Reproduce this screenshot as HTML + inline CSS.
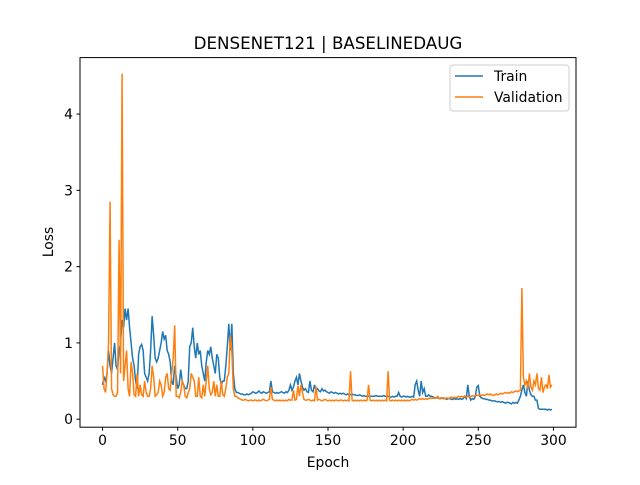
<!DOCTYPE html>
<html><head><meta charset="utf-8"><style>
body{margin:0;background:#fff}
svg{font-family:"DejaVu Sans","Liberation Sans",sans-serif}
</style></head><body>
<svg id="chart" width="640" height="480" viewBox="0 0 640 480" xmlns="http://www.w3.org/2000/svg">
<rect width="640" height="480" fill="#fff"/>
<text x="328" y="49" text-anchor="middle" font-size="16.7">DENSENET121 | BASELINEDAUG</text>
<g id="plot"></g>
<rect x="80" y="57.6" width="496" height="369.6" fill="none" stroke="#000" stroke-width="1"/>
<g id="ticks"></g>
<text x="328" y="467" text-anchor="middle" font-size="13.9">Epoch</text>
<text transform="translate(53,242) rotate(-90)" text-anchor="middle" font-size="13.9">Loss</text>
<g>
<rect x="450" y="65" width="119" height="46" fill="#fff" stroke="#ccc" rx="3"/>
<line x1="455" y1="76" x2="483" y2="76" stroke="#1f77b4" stroke-width="1.5"/>
<text x="494" y="81" font-size="13.9">Train</text>
<line x1="455" y1="97" x2="483" y2="97" stroke="#ff7f0e" stroke-width="1.5"/>
<text x="494" y="102" font-size="13.9">Validation</text>
</g>
</svg>
<script>
const xTicks=[0,50,100,150,200,250,300];
const yTicks=[0,1,2,3,4];
const trainLoss=[0.45,0.55,0.5,0.6,0.9,0.7,0.6,0.8,1.0,0.7,
0.65,0.9,1.0,1.3,1.2,1.45,1.3,1.45,1.2,1.0,
0.8,0.7,0.5,0.4,0.85,0.95,0.98,0.9,0.6,0.55,
0.5,0.6,0.9,1.35,1.1,0.8,0.75,0.8,0.9,1.0,
1.15,1.05,1.1,0.9,0.85,0.75,0.5,0.45,0.7,0.55,
0.4,0.45,0.65,0.5,0.45,0.4,0.4,0.5,0.95,1.0,
1.2,0.95,0.8,1.0,0.85,0.9,0.7,0.6,0.5,0.75,
0.9,0.85,0.95,0.8,0.7,0.6,0.85,0.8,0.55,0.45,
0.5,0.5,0.7,0.95,1.25,0.9,1.25,0.6,0.4,0.35,
0.35,0.34,0.33,0.33,0.32,0.32,0.33,0.32,0.33,0.34,
0.36,0.35,0.34,0.35,0.37,0.35,0.34,0.36,0.35,0.34,
0.35,0.36,0.5,0.36,0.35,0.34,0.35,0.34,0.35,0.36,
0.35,0.34,0.36,0.35,0.38,0.45,0.38,0.42,0.5,0.55,
0.45,0.6,0.5,0.42,0.38,0.4,0.36,0.35,0.5,0.38,
0.36,0.45,0.38,0.4,0.37,0.36,0.4,0.37,0.38,0.36,
0.35,0.34,0.36,0.35,0.34,0.35,0.34,0.33,0.34,0.33,
0.34,0.33,0.32,0.33,0.32,0.32,0.33,0.32,0.32,0.31,
0.31,0.32,0.31,0.3,0.31,0.3,0.3,0.3,0.3,0.3,
0.3,0.3,0.31,0.3,0.3,0.3,0.3,0.31,0.3,0.3,
0.3,0.29,0.29,0.3,0.29,0.3,0.3,0.35,0.3,0.29,
0.3,0.3,0.29,0.3,0.29,0.29,0.3,0.29,0.45,0.5,
0.38,0.3,0.5,0.35,0.4,0.3,0.3,0.32,0.3,0.3,
0.29,0.28,0.28,0.28,0.27,0.27,0.28,0.27,0.27,0.26,
0.27,0.27,0.26,0.26,0.27,0.26,0.27,0.26,0.27,0.26,
0.27,0.3,0.27,0.45,0.3,0.25,0.27,0.26,0.3,0.42,
0.44,0.3,0.28,0.27,0.27,0.26,0.26,0.25,0.25,0.24,
0.24,0.24,0.23,0.23,0.23,0.22,0.23,0.22,0.21,0.22,
0.22,0.21,0.2,0.22,0.21,0.22,0.21,0.25,0.3,0.38,
0.45,0.35,0.3,0.5,0.38,0.32,0.3,0.3,0.25,0.25,
0.14,0.13,0.13,0.13,0.13,0.13,0.12,0.13,0.12,0.13];
const valLoss=[0.7,0.4,0.35,0.6,1.0,2.85,0.4,0.32,0.3,0.3,
0.35,2.35,0.6,4.53,0.5,0.7,0.9,0.4,0.3,0.75,
0.6,0.32,0.3,0.6,0.3,0.45,0.32,0.3,0.5,0.35,
0.3,0.3,0.4,0.7,0.55,0.3,0.32,0.35,0.5,0.45,
0.3,0.35,0.55,0.6,0.4,0.38,0.6,0.8,1.23,0.3,
0.3,0.28,0.35,0.5,0.45,0.3,0.28,0.35,0.4,0.6,
0.55,0.5,0.3,0.3,0.55,0.3,0.28,0.45,0.3,0.5,
0.7,0.4,0.32,0.35,0.5,0.3,0.45,0.3,0.3,0.5,
0.32,0.3,0.4,0.55,0.6,1.1,0.9,0.4,0.3,0.3,
0.28,0.27,0.26,0.25,0.25,0.26,0.25,0.24,0.25,0.25,
0.24,0.25,0.25,0.24,0.25,0.24,0.25,0.26,0.25,0.24,
0.25,0.26,0.42,0.26,0.25,0.24,0.25,0.24,0.25,0.24,
0.25,0.24,0.25,0.24,0.26,0.25,0.25,0.38,0.25,0.26,
0.44,0.3,0.45,0.35,0.26,0.25,0.25,0.26,0.25,0.24,
0.25,0.24,0.43,0.25,0.26,0.25,0.24,0.25,0.26,0.25,
0.24,0.25,0.24,0.25,0.24,0.25,0.25,0.24,0.25,0.25,
0.24,0.25,0.24,0.25,0.24,0.63,0.25,0.24,0.25,0.24,
0.25,0.24,0.25,0.24,0.25,0.24,0.25,0.45,0.25,0.24,
0.25,0.24,0.25,0.24,0.25,0.24,0.25,0.24,0.25,0.24,
0.63,0.25,0.24,0.25,0.24,0.25,0.24,0.25,0.24,0.25,
0.24,0.25,0.24,0.25,0.24,0.25,0.26,0.25,0.26,0.25,
0.26,0.27,0.26,0.27,0.26,0.27,0.26,0.27,0.28,0.27,
0.28,0.27,0.28,0.3,0.27,0.28,0.27,0.28,0.27,0.28,
0.27,0.28,0.29,0.28,0.29,0.28,0.29,0.3,0.29,0.3,
0.29,0.3,0.29,0.3,0.29,0.3,0.31,0.3,0.31,0.32,
0.31,0.32,0.31,0.32,0.31,0.32,0.33,0.32,0.33,0.32,
0.31,0.32,0.33,0.32,0.33,0.34,0.33,0.34,0.35,0.34,
0.35,0.34,0.36,0.35,0.36,0.37,0.36,0.37,0.38,1.72,
0.55,0.45,0.5,0.4,0.6,0.42,0.38,0.5,0.45,0.6,
0.4,0.38,0.55,0.35,0.42,0.45,0.4,0.58,0.42,0.45];
const X0=-15,X1=315,Y0=-0.105,Y1=4.74;
const L=80,R=576,T=57.6,B=427.2;
const xs=v=>L+(v-X0)/(X1-X0)*(R-L);
const ys=v=>B-(v-Y0)/(Y1-Y0)*(B-T);
const NS="http://www.w3.org/2000/svg";
const plot=document.getElementById('plot'),ticks=document.getElementById('ticks');
function line(data,color,name){
  const p=document.createElementNS(NS,'polyline');
  p.setAttribute('points',data.map((v,i)=>xs(i).toFixed(2)+','+ys(v).toFixed(2)).join(' '));
  p.setAttribute('fill','none');p.setAttribute('stroke',color);p.setAttribute('stroke-width','1.5');
  
  
  plot.appendChild(p);
}
line(trainLoss,'#1f77b4','train-line');
line(valLoss,'#ff7f0e','validation-line');
xTicks.forEach(t=>{
  const x=xs(t);
  const l=document.createElementNS(NS,'line');
  l.setAttribute('x1',x);l.setAttribute('x2',x);l.setAttribute('y1',B);l.setAttribute('y2',B+3.5);l.setAttribute('stroke','#000');
  
  
  ticks.appendChild(l);
  const tx=document.createElementNS(NS,'text');
  tx.setAttribute('x',x);tx.setAttribute('y',B+18);tx.setAttribute('text-anchor','middle');tx.setAttribute('font-size','13.9');
  tx.textContent=t;
  
  
  ticks.appendChild(tx);
});
yTicks.forEach(t=>{
  const y=ys(t);
  const l=document.createElementNS(NS,'line');
  l.setAttribute('x1',L-3.5);l.setAttribute('x2',L);l.setAttribute('y1',y);l.setAttribute('y2',y);l.setAttribute('stroke','#000');
  
  
  ticks.appendChild(l);
  const tx=document.createElementNS(NS,'text');
  tx.setAttribute('x',L-7);tx.setAttribute('y',y+5);tx.setAttribute('text-anchor','end');tx.setAttribute('font-size','13.9');
  tx.textContent=t;
  
  
  ticks.appendChild(tx);
});
</script>
</body></html>
